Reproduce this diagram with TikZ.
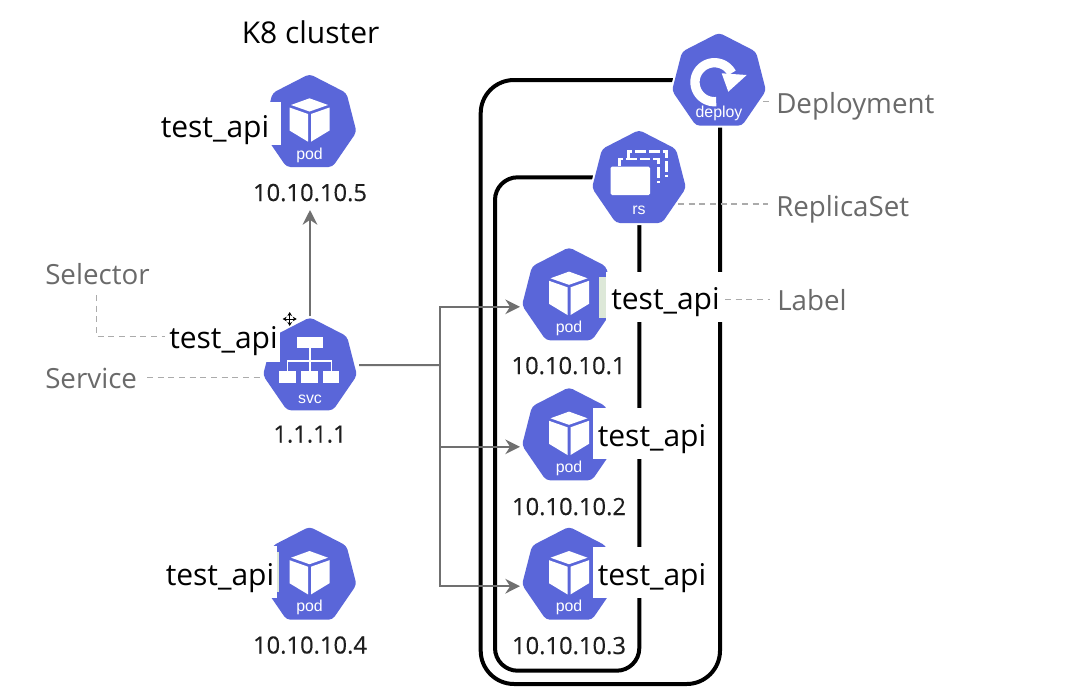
\documentclass[tikz,border=0pt]{standalone}
\usepackage{fontspec}
\setmainfont{Open Sans}
\newfontfamily\iconfont{Liberation Sans}
\newfontfamily\ipfont[FakeBold=0.35]{Open Sans}
\usetikzlibrary{arrows.meta}
\definecolor{kube}{HTML}{5A66D9}
\definecolor{conn}{HTML}{707070}
\definecolor{dashc}{HTML}{ABABAB}
\definecolor{lbl}{HTML}{6A6A6A}
\definecolor{ipc}{HTML}{1E1E1E}
\definecolor{strip}{HTML}{DDE8D8}
\tikzset{
  hexbody/.style={fill=kube,rounded corners=3pt,preaction={draw=white,line width=3pt}},
  icontext/.style={font=\iconfont\fontsize{11.9}{12}\selectfont,text=white,inner sep=0pt,anchor=center},
  frame/.style={draw=black,line width=3pt},
  flow/.style={draw=conn,line width=1.5pt},
  flowtip/.style={-{Stealth[length=11pt,width=11pt]}},
  hint/.style={draw=dashc,line width=1pt,dash pattern=on 4.5pt off 3.5pt},
  apilabel/.style={font=\fontsize{22.5}{24}\selectfont,text=black,inner sep=0pt,anchor=base west},
  graylabel/.style={font=\fontsize{20.8}{24}\selectfont,text=lbl,inner sep=0pt,anchor=base west},
  iplabel/.style={font=\ipfont\fontsize{17.8}{20}\selectfont,text=ipc,inner sep=0pt,anchor=base},
  labelbg/.style={fill=white,draw=none},
}
\newcommand{\kubehex}[1]{%
  \path[hexbody] (0,0) -- (37,19) -- (47,58) -- (23,93) -- (-23,93) -- (-47,58) -- (-37,19) -- cycle;
}
\newcommand{\podshape}[2]{%
  \begin{scope}[shift={#2}]
    \kubehex{}
    \fill[white] (0,24.3) -- (18.5,31) -- (0,37.5) -- (-18.5,31) -- cycle;
    \fill[white] (-20,33.5) -- (-1.5,40) -- (-1.5,67.7) -- (-20,56.5) -- cycle;
    \fill[white] (20,33.5) -- (1.5,40) -- (1.5,67.7) -- (20,56.5) -- cycle;
    \node[icontext] (#1icon) at (0,81) {pod};
    \coordinate (#1w) at (-49,59.5);
  \end{scope}
}
\begin{document}
\begin{tikzpicture}[x=0.75pt,y=-0.75pt]
\useasboundingbox (0,0) rectangle (1068,697);
\fill[white] (0,0) rectangle (1068,697);

% frames
\draw[frame,rounded corners=25pt] (480.7,80) rectangle (720,684);
\draw[frame,rounded corners=17pt] (495,177.3) rectangle (639.3,670.7);

% deploy
\begin{scope}[shift={(719,32.7)}]
  \kubehex{}
  \draw[white,line width=7pt] plot[domain=85:332,samples=40] ({-4.5+19.5*cos(\x)},{49.5+19.5*sin(\x)});
  \fill[white] (2.7,40.6) -- (27.7,42.3) -- (9.3,59) -- cycle;
  \node[icontext] (deployicon) at (0,80.5) {deploy};
  \coordinate (deployE) at (44,69);
\end{scope}

% rs
\begin{scope}[shift={(639,130)}]
  \kubehex{}
  \draw[white,line width=2pt,dash pattern=on 8pt off 2.2pt] (-10.7,28.3) -- (-10.7,21.7) -- (27.7,21.7) -- (27.7,46.7);
  \draw[white,line width=2pt,dash pattern=on 8pt off 2.2pt] (-19.7,36) -- (-19.7,29) -- (19.3,29) -- (19.3,53.3);
  \fill[white,rounded corners=1pt] (-28.3,36.7) rectangle (11,65);
  \node[icontext] (rsicon) at (0,80) {rs};
  \coordinate (rsE) at (39,74);
\end{scope}

% svc
\begin{scope}[shift={(310,317.3)}]
  \kubehex{}
  \fill[white] (-13.3,20) rectangle (13,30.4);
  \draw[white,line width=1.3pt] (0,30) -- (0,55) (-22.5,55) -- (-22.5,44) -- (21.5,44) -- (21.5,55);
  \fill[white] (-30.7,54) rectangle (-14.3,66);
  \fill[white] (-9,54) rectangle (7.7,66);
  \fill[white] (13.3,54) rectangle (29.3,66);
  \node[icontext] (svcicon) at (0,81.7) {svc};
  \coordinate (svcN) at (0,-1);
  \coordinate (svcE) at (49,47.7);
  \coordinate (svcW) at (-50,60);
\end{scope}

% pods
\podshape{podA}{(569,247.3)}
\podshape{podB}{(569,387.3)}
\podshape{podC}{(569,526.7)}
\podshape{podD}{(309.5,526.7)}
\podshape{podE}{(309.5,74)}
\coordinate (podEs) at (310,210);

% label backgrounds
\fill[labelbg] (155,101.7) rectangle (280.7,145);
\fill[labelbg] (160,546) rectangle (277.3,598);
\fill[strip] (277.3,552) rectangle (278.6,592);
\fill[labelbg] (165,326.7) rectangle (280,361.7);
\fill[strip] (599.3,276.7) rectangle (606,318.3);
\fill[labelbg] (606,271.7) rectangle (722.7,321.7);
\fill[labelbg] (592.7,408.3) rectangle (708,459);
\fill[labelbg] (592.7,546.7) rectangle (708,598.3);

% labels
\node[apilabel] (apiE) at (160.5,137) {test\_api};
\node[apilabel] (apiD) at (165.5,585) {test\_api};
\node[apilabel] (apiS) at (169,348) {test\_api};
\node[apilabel] (apiA) at (611,309.5) {test\_api};
\node[apilabel] (apiB) at (597.5,446) {test\_api};
\node[apilabel] (apiC) at (597.5,585) {test\_api};

\node[apilabel] (title) at (241.5,43.5) {K8 cluster};
\node[graylabel] (selector) at (45,284.5) {Selector};
\node[graylabel] (service) at (45,388.5) {Service};
\node[graylabel] (deployment) at (776,113.5) {Deployment};
\node[graylabel] (replicaset) at (776,216.5) {ReplicaSet};
\node[graylabel] (label) at (777,310) {Label};

\node[iplabel] (ipE) at (310,201) {10.10.10.5};
\node[iplabel] (ipS) at (310,442.5) {1.1.1.1};
\node[iplabel] (ipD) at (310,653.5) {10.10.10.4};
\node[iplabel] (ipA) at (568.5,374) {10.10.10.1};
\node[iplabel] (ipB) at (569,515) {10.10.10.2};
\node[iplabel] (ipC) at (569,654) {10.10.10.3};

% connectors
\coordinate (bus) at (440,365);
\draw[flow] (svcE) -- (bus);
\draw[flow,flowtip] (bus) |- (podAw);
\draw[flow,flowtip] (bus) |- (podBw);
\draw[flow,flowtip] (bus) |- (podCw);
\draw[flow,flowtip] (svcN) -- (podEs);

% hints
\coordinate (selTop) at (96.7,295);
\coordinate (selBend) at (96.7,336.7);
\coordinate (selEnd) at (165,336.7);
\draw[hint] (selTop) -- (selBend) -- (selEnd);
\coordinate (srvL) at (147,377.3);
\coordinate (srvR) at (261,377.3);
\draw[hint] (srvL) -- (srvR);
\coordinate (depEnd) at (772,101.7);
\draw[hint] (deployE) -- (depEnd);
\coordinate (rsEnd) at (768,204);
\draw[hint] (rsE) -- (rsEnd);
\coordinate (lblL) at (725,299.5);
\coordinate (lblR) at (770,299.5);
\draw[hint] (lblL) -- (lblR);

% cursor
\draw[black,line width=0.6pt,{Stealth[length=3pt,width=3.5pt]}-{Stealth[length=3pt,width=3.5pt]}] (282.7,319) -- (296.7,319);
\draw[black,line width=0.6pt,{Stealth[length=3pt,width=3.5pt]}-{Stealth[length=3pt,width=3.5pt]}] (289.7,312) -- (289.7,326);
\end{tikzpicture}
\end{document}
